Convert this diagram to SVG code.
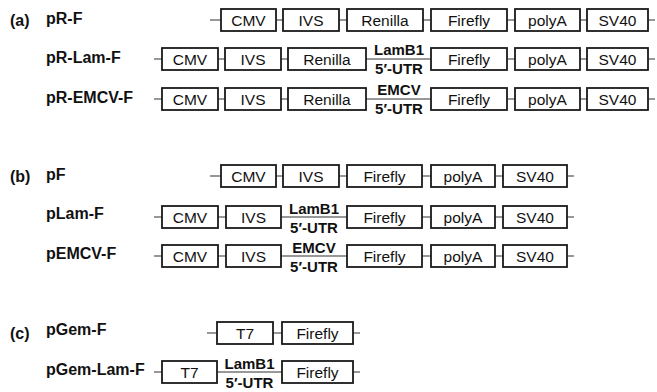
<svg xmlns="http://www.w3.org/2000/svg" width="657" height="392" viewBox="0 0 657 392">
<style>
.bg{fill:#fff}
.bx{fill:#fff;stroke:#1a1a1a;stroke-width:1.8}
.ln{stroke:#333;stroke-width:1.2;fill:none}
.t{font-family:"Liberation Sans",Arial,sans-serif;font-size:15.5px;fill:#111;text-anchor:middle}
.u{font-family:"Liberation Sans",Arial,sans-serif;font-size:15px;font-weight:bold;fill:#111;text-anchor:middle}
.lb{font-family:"Liberation Sans",Arial,sans-serif;font-size:16px;font-weight:bold;fill:#111}
</style>
<rect class="bg" x="0" y="0" width="657" height="392"/>
<g id="connectors">
<line class="ln" x1="210" y1="20" x2="655" y2="20"/>
<line class="ln" x1="154" y1="59" x2="655" y2="59"/>
<line class="ln" x1="154" y1="99" x2="655" y2="99"/>
<line class="ln" x1="210" y1="176" x2="574" y2="176"/>
<line class="ln" x1="154" y1="217" x2="574" y2="217"/>
<line class="ln" x1="154" y1="256" x2="574" y2="256"/>
<line class="ln" x1="207" y1="333" x2="360" y2="333"/>
<line class="ln" x1="154" y1="372" x2="360" y2="372"/>
</g>
<g id="labels">
<text class="lb" x="10" y="26">(a)</text>
<text class="lb" x="10" y="182">(b)</text>
<text class="lb" x="10" y="339">(c)</text>
<text class="lb" x="46" y="24">pR-F</text>
<text class="lb" x="46" y="63">pR-Lam-F</text>
<text class="lb" x="46" y="103">pR-EMCV-F</text>
<text class="lb" x="46" y="180">pF</text>
<text class="lb" x="46" y="219">pLam-F</text>
<text class="lb" x="46" y="259">pEMCV-F</text>
<text class="lb" x="46" y="335">pGem-F</text>
<text class="lb" x="46" y="375">pGem-Lam-F</text>
</g>
<g id="row-pR-F">
<g id="a1-cmv"><rect class="bx" x="221" y="9" width="55" height="22"/><text class="t" x="248.5" y="25.5">CMV</text></g>
<g id="a1-ivs"><rect class="bx" x="283" y="9" width="56" height="22"/><text class="t" x="311" y="25.5">IVS</text></g>
<g id="a1-renilla"><rect class="bx" x="347" y="9" width="76" height="22"/><text class="t" x="385" y="25.5">Renilla</text></g>
<g id="a1-firefly"><rect class="bx" x="431" y="9" width="76" height="22"/><text class="t" x="469" y="25.5">Firefly</text></g>
<g id="a1-polya"><rect class="bx" x="515" y="9" width="65" height="22"/><text class="t" x="547.5" y="25.5">polyA</text></g>
<g id="a1-sv40"><rect class="bx" x="587" y="9" width="61" height="22"/><text class="t" x="617.5" y="25.5">SV40</text></g>
</g>
<g id="row-pR-Lam-F">
<g id="a2-cmv"><rect class="bx" x="162" y="48" width="56" height="22"/><text class="t" x="190" y="64.5">CMV</text></g>
<g id="a2-ivs"><rect class="bx" x="225" y="48" width="56" height="22"/><text class="t" x="253" y="64.5">IVS</text></g>
<g id="a2-renilla"><rect class="bx" x="288" y="48" width="78" height="22"/><text class="t" x="327" y="64.5">Renilla</text></g>
<g id="a2-utr"><text class="u" x="399" y="55">LamB1</text><text class="u" x="399" y="74">5′-UTR</text></g>
<g id="a2-firefly"><rect class="bx" x="431" y="48" width="76" height="22"/><text class="t" x="469" y="64.5">Firefly</text></g>
<g id="a2-polya"><rect class="bx" x="515" y="48" width="65" height="22"/><text class="t" x="547.5" y="64.5">polyA</text></g>
<g id="a2-sv40"><rect class="bx" x="587" y="48" width="61" height="22"/><text class="t" x="617.5" y="64.5">SV40</text></g>
</g>
<g id="row-pR-EMCV-F">
<g id="a3-cmv"><rect class="bx" x="162" y="88" width="56" height="22"/><text class="t" x="190" y="104.5">CMV</text></g>
<g id="a3-ivs"><rect class="bx" x="225" y="88" width="56" height="22"/><text class="t" x="253" y="104.5">IVS</text></g>
<g id="a3-renilla"><rect class="bx" x="288" y="88" width="78" height="22"/><text class="t" x="327" y="104.5">Renilla</text></g>
<g id="a3-utr"><text class="u" x="399" y="95">EMCV</text><text class="u" x="399" y="114">5′-UTR</text></g>
<g id="a3-firefly"><rect class="bx" x="431" y="88" width="76" height="22"/><text class="t" x="469" y="104.5">Firefly</text></g>
<g id="a3-polya"><rect class="bx" x="515" y="88" width="65" height="22"/><text class="t" x="547.5" y="104.5">polyA</text></g>
<g id="a3-sv40"><rect class="bx" x="587" y="88" width="61" height="22"/><text class="t" x="617.5" y="104.5">SV40</text></g>
</g>
<g id="row-pF">
<g id="b1-cmv"><rect class="bx" x="221" y="165" width="55" height="22"/><text class="t" x="248.5" y="181.5">CMV</text></g>
<g id="b1-ivs"><rect class="bx" x="283" y="165" width="56" height="22"/><text class="t" x="311" y="181.5">IVS</text></g>
<g id="b1-firefly"><rect class="bx" x="347" y="165" width="75" height="22"/><text class="t" x="384.5" y="181.5">Firefly</text></g>
<g id="b1-polya"><rect class="bx" x="431" y="165" width="64" height="22"/><text class="t" x="463" y="181.5">polyA</text></g>
<g id="b1-sv40"><rect class="bx" x="503" y="165" width="64" height="22"/><text class="t" x="535" y="181.5">SV40</text></g>
</g>
<g id="row-pLam-F">
<g id="b2-cmv"><rect class="bx" x="162" y="206" width="56" height="22"/><text class="t" x="190" y="222.5">CMV</text></g>
<g id="b2-ivs"><rect class="bx" x="226" y="206" width="55" height="22"/><text class="t" x="253.5" y="222.5">IVS</text></g>
<g id="b2-utr"><text class="u" x="314" y="214">LamB1</text><text class="u" x="314" y="233">5′-UTR</text></g>
<g id="b2-firefly"><rect class="bx" x="347" y="206" width="75" height="22"/><text class="t" x="384.5" y="222.5">Firefly</text></g>
<g id="b2-polya"><rect class="bx" x="431" y="206" width="64" height="22"/><text class="t" x="463" y="222.5">polyA</text></g>
<g id="b2-sv40"><rect class="bx" x="503" y="206" width="64" height="22"/><text class="t" x="535" y="222.5">SV40</text></g>
</g>
<g id="row-pEMCV-F">
<g id="b3-cmv"><rect class="bx" x="162" y="245" width="56" height="22"/><text class="t" x="190" y="261.5">CMV</text></g>
<g id="b3-ivs"><rect class="bx" x="226" y="245" width="55" height="22"/><text class="t" x="253.5" y="261.5">IVS</text></g>
<g id="b3-utr"><text class="u" x="314" y="253">EMCV</text><text class="u" x="314" y="272">5′-UTR</text></g>
<g id="b3-firefly"><rect class="bx" x="347" y="245" width="75" height="22"/><text class="t" x="384.5" y="261.5">Firefly</text></g>
<g id="b3-polya"><rect class="bx" x="431" y="245" width="64" height="22"/><text class="t" x="463" y="261.5">polyA</text></g>
<g id="b3-sv40"><rect class="bx" x="503" y="245" width="64" height="22"/><text class="t" x="535" y="261.5">SV40</text></g>
</g>
<g id="row-pGem-F">
<g id="c1-t7"><rect class="bx" x="217" y="322" width="56" height="22"/><text class="t" x="245" y="338.5">T7</text></g>
<g id="c1-firefly"><rect class="bx" x="282" y="322" width="71" height="22"/><text class="t" x="317.5" y="338.5">Firefly</text></g>
</g>
<g id="row-pGem-Lam-F">
<g id="c2-t7"><rect class="bx" x="162" y="361" width="55" height="22"/><text class="t" x="189.5" y="377.5">T7</text></g>
<g id="c2-utr"><text class="u" x="249.5" y="369">LamB1</text><text class="u" x="249.5" y="388">5′-UTR</text></g>
<g id="c2-firefly"><rect class="bx" x="282" y="361" width="71" height="22"/><text class="t" x="317.5" y="377.5">Firefly</text></g>
</g>
</svg>
